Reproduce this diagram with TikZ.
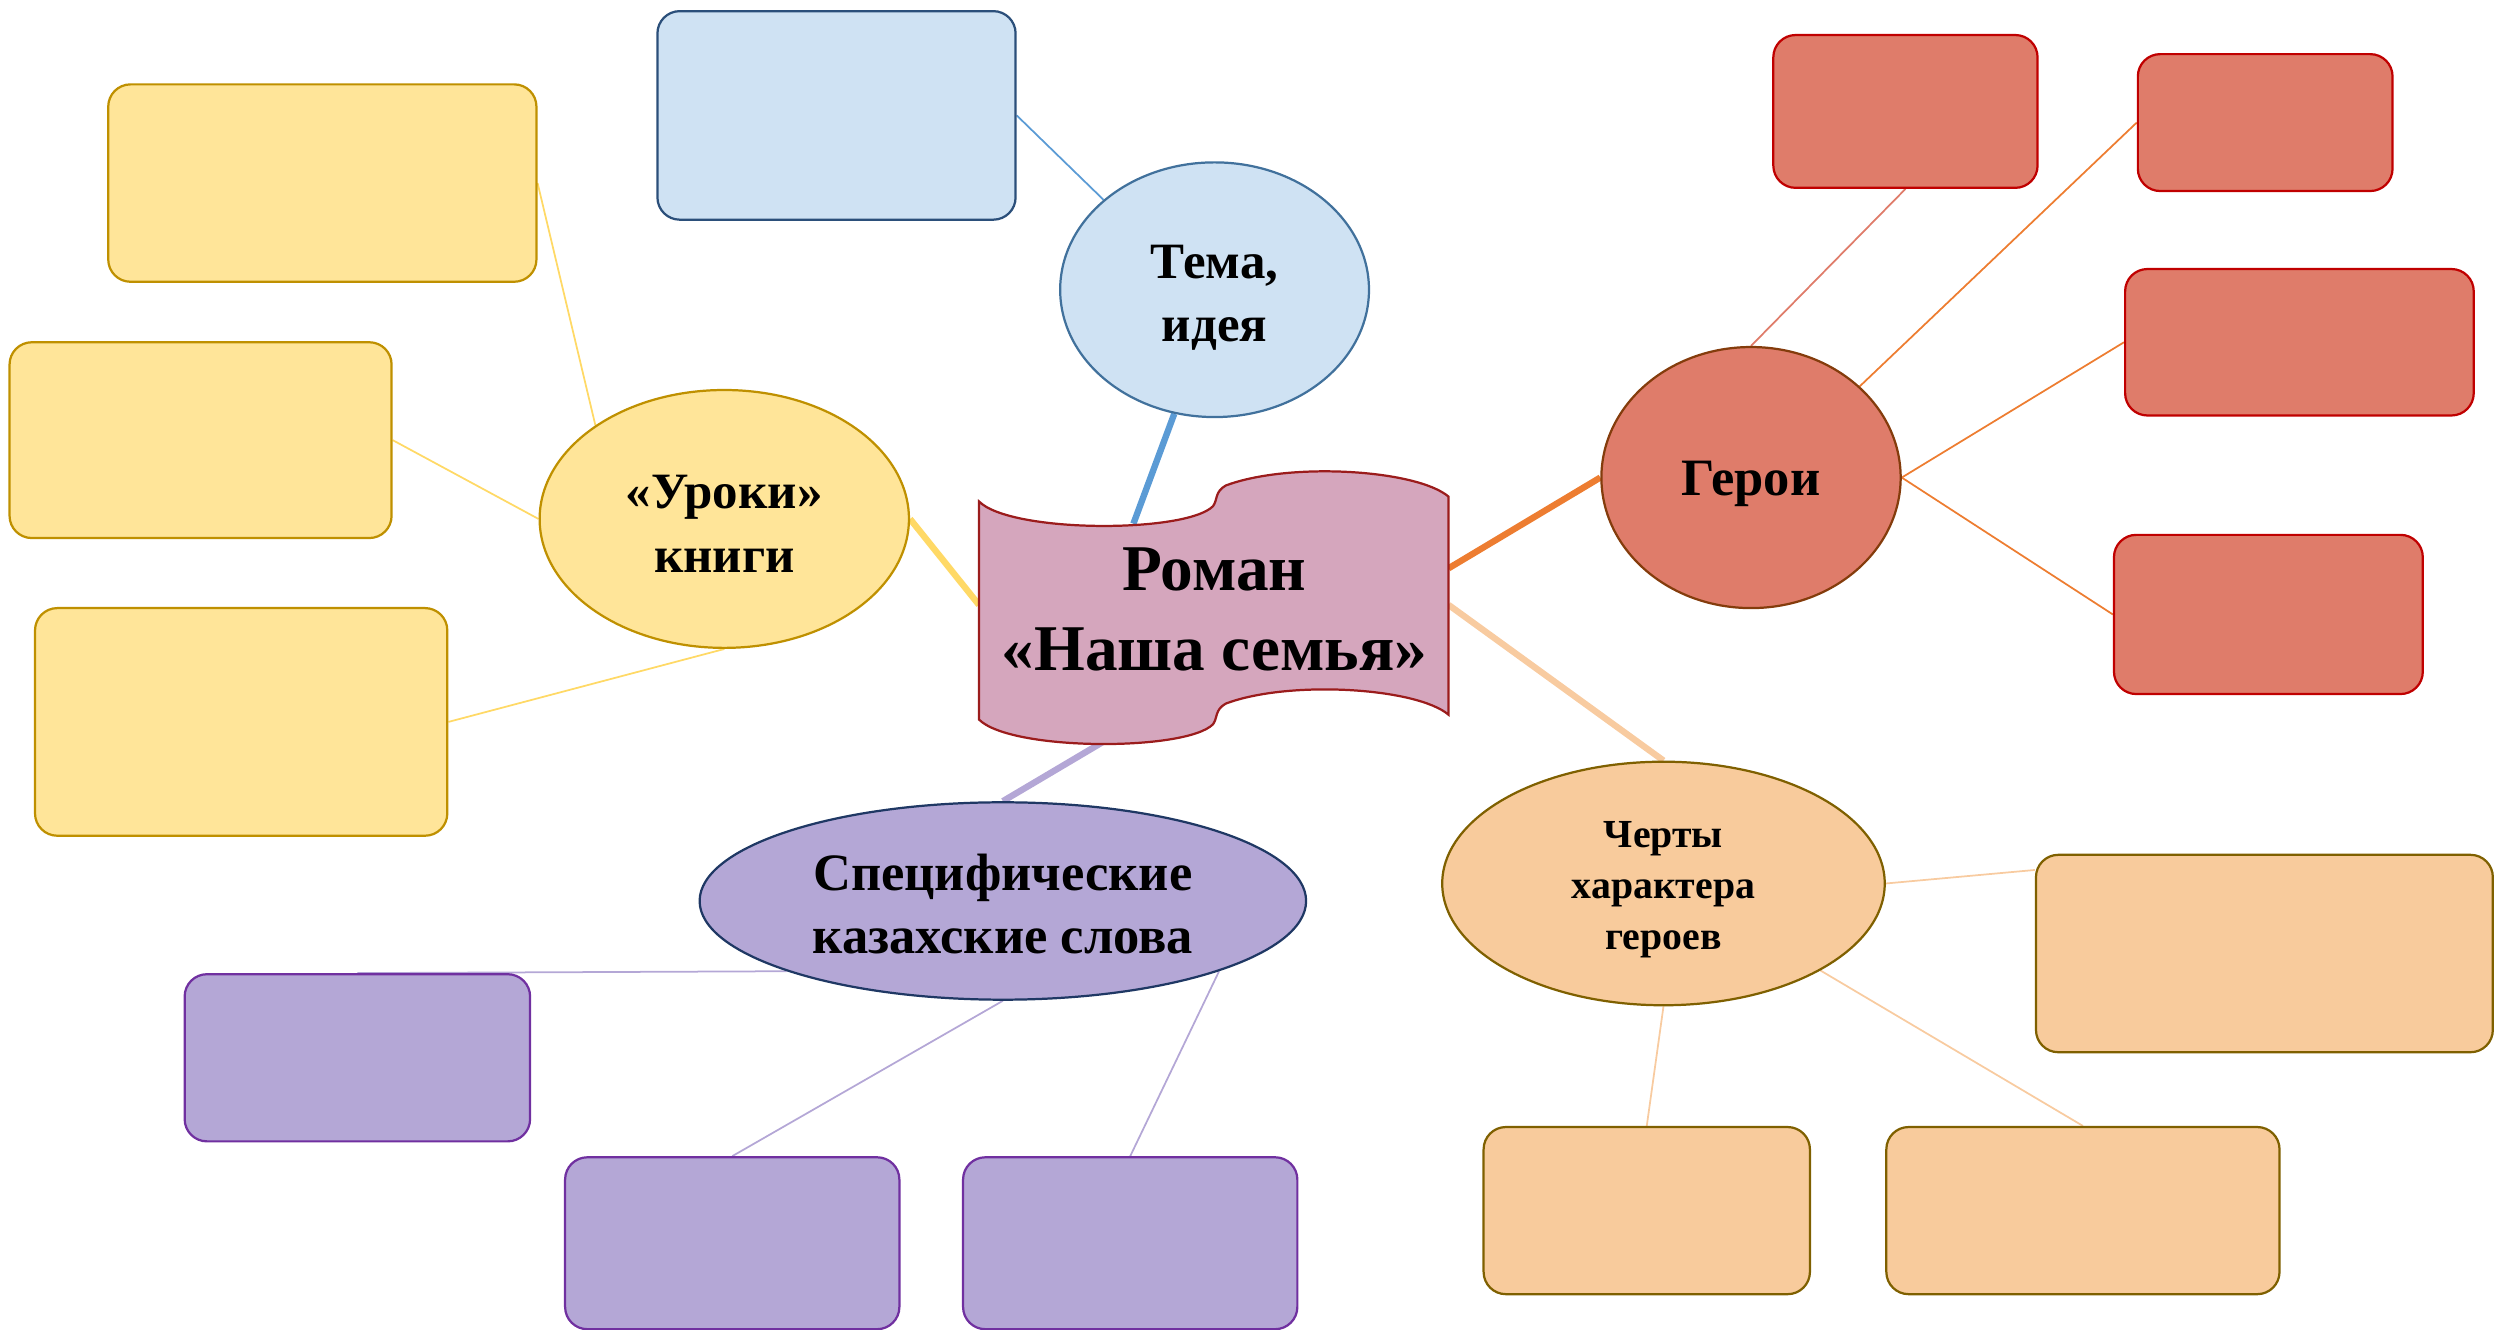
\documentclass[tikz,border=0pt]{standalone}
\usepackage{fontspec}
\setmainfont{Liberation Serif}
\usetikzlibrary{shapes.geometric,backgrounds}
\definecolor{blueF}{HTML}{CFE2F3}
\definecolor{blueD}{HTML}{2B4F7A}
\definecolor{blueE}{HTML}{41719C}
\definecolor{blueL}{HTML}{5B9BD5}
\definecolor{yelF}{HTML}{FFE599}
\definecolor{yelD}{HTML}{BF9000}
\definecolor{yelL}{HTML}{FFD966}
\definecolor{redF}{HTML}{DF7C6A}
\definecolor{redD}{HTML}{C00000}
\definecolor{redE}{HTML}{843C0C}
\definecolor{redL}{HTML}{ED7D31}
\definecolor{peaF}{HTML}{F8CB9C}
\definecolor{peaD}{HTML}{7F6000}
\definecolor{peaL}{HTML}{F8CBA0}
\definecolor{purF}{HTML}{B4A7D6}
\definecolor{purE}{HTML}{1F3864}
\definecolor{purD}{HTML}{7030A0}
\definecolor{banF}{HTML}{D5A6BD}
\definecolor{banD}{HTML}{9B1C1C}
\tikzset{
  box/.style={draw, rounded corners=14pt, line width=1.4pt, inner sep=0pt},
  ell/.style={ellipse, draw, line width=1.4pt, inner sep=0pt},
  lbl/.style={align=center, inner sep=0pt},
  thin/.style={line width=1.1pt},
  thick/.style={line width=4pt},
}
\begin{document}
\begin{tikzpicture}[x=1pt,y=-1pt]
\useasboundingbox (0,0) rectangle (1568,835.5);
% banner
\draw[fill=banF, draw=banD, line width=1.4pt]
  (615,315) .. controls (635,335) and (745,335) .. (762,318)
  .. controls (765,314) and (763,309) .. (770,305)
  .. controls (810,290) and (890,295) .. (910,312)
  -- (910,449)
  .. controls (890,432) and (810,427) .. (770,442)
  .. controls (763,446) and (765,451) .. (762,455)
  .. controls (745,472) and (635,472) .. (615,452) -- cycle;
\node[lbl, font=\fontsize{41}{50}\selectfont\bfseries] (roman) at (763,383) {Роман\\«Наша семья»};
\coordinate (bT) at (712,329);
\coordinate (bL) at (615,380);
\coordinate (bB) at (693,466);
\coordinate (bR1) at (910,357);
\coordinate (bR2) at (910,380);
% main ellipses
\node[ell, fill=blueF, draw=blueE, minimum width=194pt, minimum height=160pt] (tema) at (763,182) {};
\node[lbl, font=\fontsize{32}{40}\selectfont\bfseries] (temaT) at (763,187) {Тема,\\идея};
\node[ell, fill=yelF, draw=yelD, minimum width=232pt, minimum height=162pt] (uroki) at (455,326) {};
\node[lbl, font=\fontsize{32}{40}\selectfont\bfseries] (urokiT) at (455,329) {«Уроки»\\книги};
\node[ell, fill=purF, draw=purE, minimum width=381pt, minimum height=124pt] (spec) at (630,566) {};
\node[lbl, font=\fontsize{33}{40}\selectfont\bfseries] (specT) at (630,568) {Специфические\\казахские слова};
\node[ell, fill=redF, draw=redE, minimum width=188pt, minimum height=164pt] (geroi) at (1100,300) {};
\node[lbl, font=\fontsize{33}{40}\selectfont\bfseries] (geroiT) at (1100,304) {Герои};
\node[ell, fill=peaF, draw=peaD, minimum width=278pt, minimum height=153pt] (traits) at (1045,555) {};
\node[lbl, font=\fontsize{25}{32}\selectfont\bfseries] (traitsT) at (1045,559) {Черты\\характера\\героев};
% boxes
\node[box, fill=blueF, draw=blueD, minimum width=225pt, minimum height=131pt] (b1) at (525.5,72.5) {};
\node[box, fill=yelF, draw=yelD, minimum width=269pt, minimum height=124pt] (y1) at (202.5,115) {};
\node[box, fill=yelF, draw=yelD, minimum width=240pt, minimum height=123pt] (y2) at (126,276.5) {};
\node[box, fill=yelF, draw=yelD, minimum width=259pt, minimum height=143pt] (y3) at (151.5,453.5) {};
\node[box, fill=purF, draw=purD, minimum width=217pt, minimum height=105pt] (p1) at (224.5,664.5) {};
\node[box, fill=purF, draw=purD, minimum width=210pt, minimum height=108pt] (p2) at (460,781) {};
\node[box, fill=purF, draw=purD, minimum width=210pt, minimum height=108pt] (p3) at (710,781) {};
\node[box, fill=redF, draw=redD, minimum width=166pt, minimum height=96pt] (r1) at (1197,70) {};
\node[box, fill=redF, draw=redD, minimum width=160pt, minimum height=86pt] (r2) at (1423,77) {};
\node[box, fill=redF, draw=redD, minimum width=219pt, minimum height=92pt] (r3) at (1444.5,215) {};
\node[box, fill=redF, draw=redD, minimum width=194pt, minimum height=100pt] (r4) at (1425,386) {};
\node[box, fill=peaF, draw=peaD, minimum width=287pt, minimum height=124pt] (t1) at (1422.5,599) {};
\node[box, fill=peaF, draw=peaD, minimum width=205pt, minimum height=105pt] (t2) at (1034.5,760.5) {};
\node[box, fill=peaF, draw=peaD, minimum width=247pt, minimum height=105pt] (t3) at (1308.5,760.5) {};
% connectors
\begin{scope}[on background layer]
\draw[thick, blueL] (tema.-108) -- (bT);
\draw[thin, blueL] (b1.east) -- (tema.141);
\draw[thick, yelL] (uroki.east) -- (bL);
\draw[thin, yelL] (y1.east) -- (uroki.144);
\draw[thin, yelL] (y2.east) -- (uroki.west);
\draw[thin, yelL] (y3.east) -- (uroki.south);
\draw[thick, purF] (spec.north) -- (bB);
\draw[thin, purF] (p1.north) -- (spec.-162);
\draw[thin, purF] (p2.north) -- (spec.south);
\draw[thin, purF] (p3.north) -- (spec.-18);
\draw[thick, redL] (bR1) -- (geroi.west);
\draw[thin, redF] (r1.south) -- (geroi.north);
\draw[thin, redL] (r2.west) -- (geroi.40);
\draw[thin, redL] (r3.west) -- (geroi.east);
\draw[thin, redL] (r4.west) -- (geroi.east);
\draw[thick, peaL] (bR2) -- (traits.north);
\draw[thin, peaL] (t1.160) -- (traits.east);
\draw[thin, peaL] (t2.north) -- (traits.south);
\draw[thin, peaL] (t3.north) -- (traits.-29);
\end{scope}
\end{tikzpicture}
\end{document}
